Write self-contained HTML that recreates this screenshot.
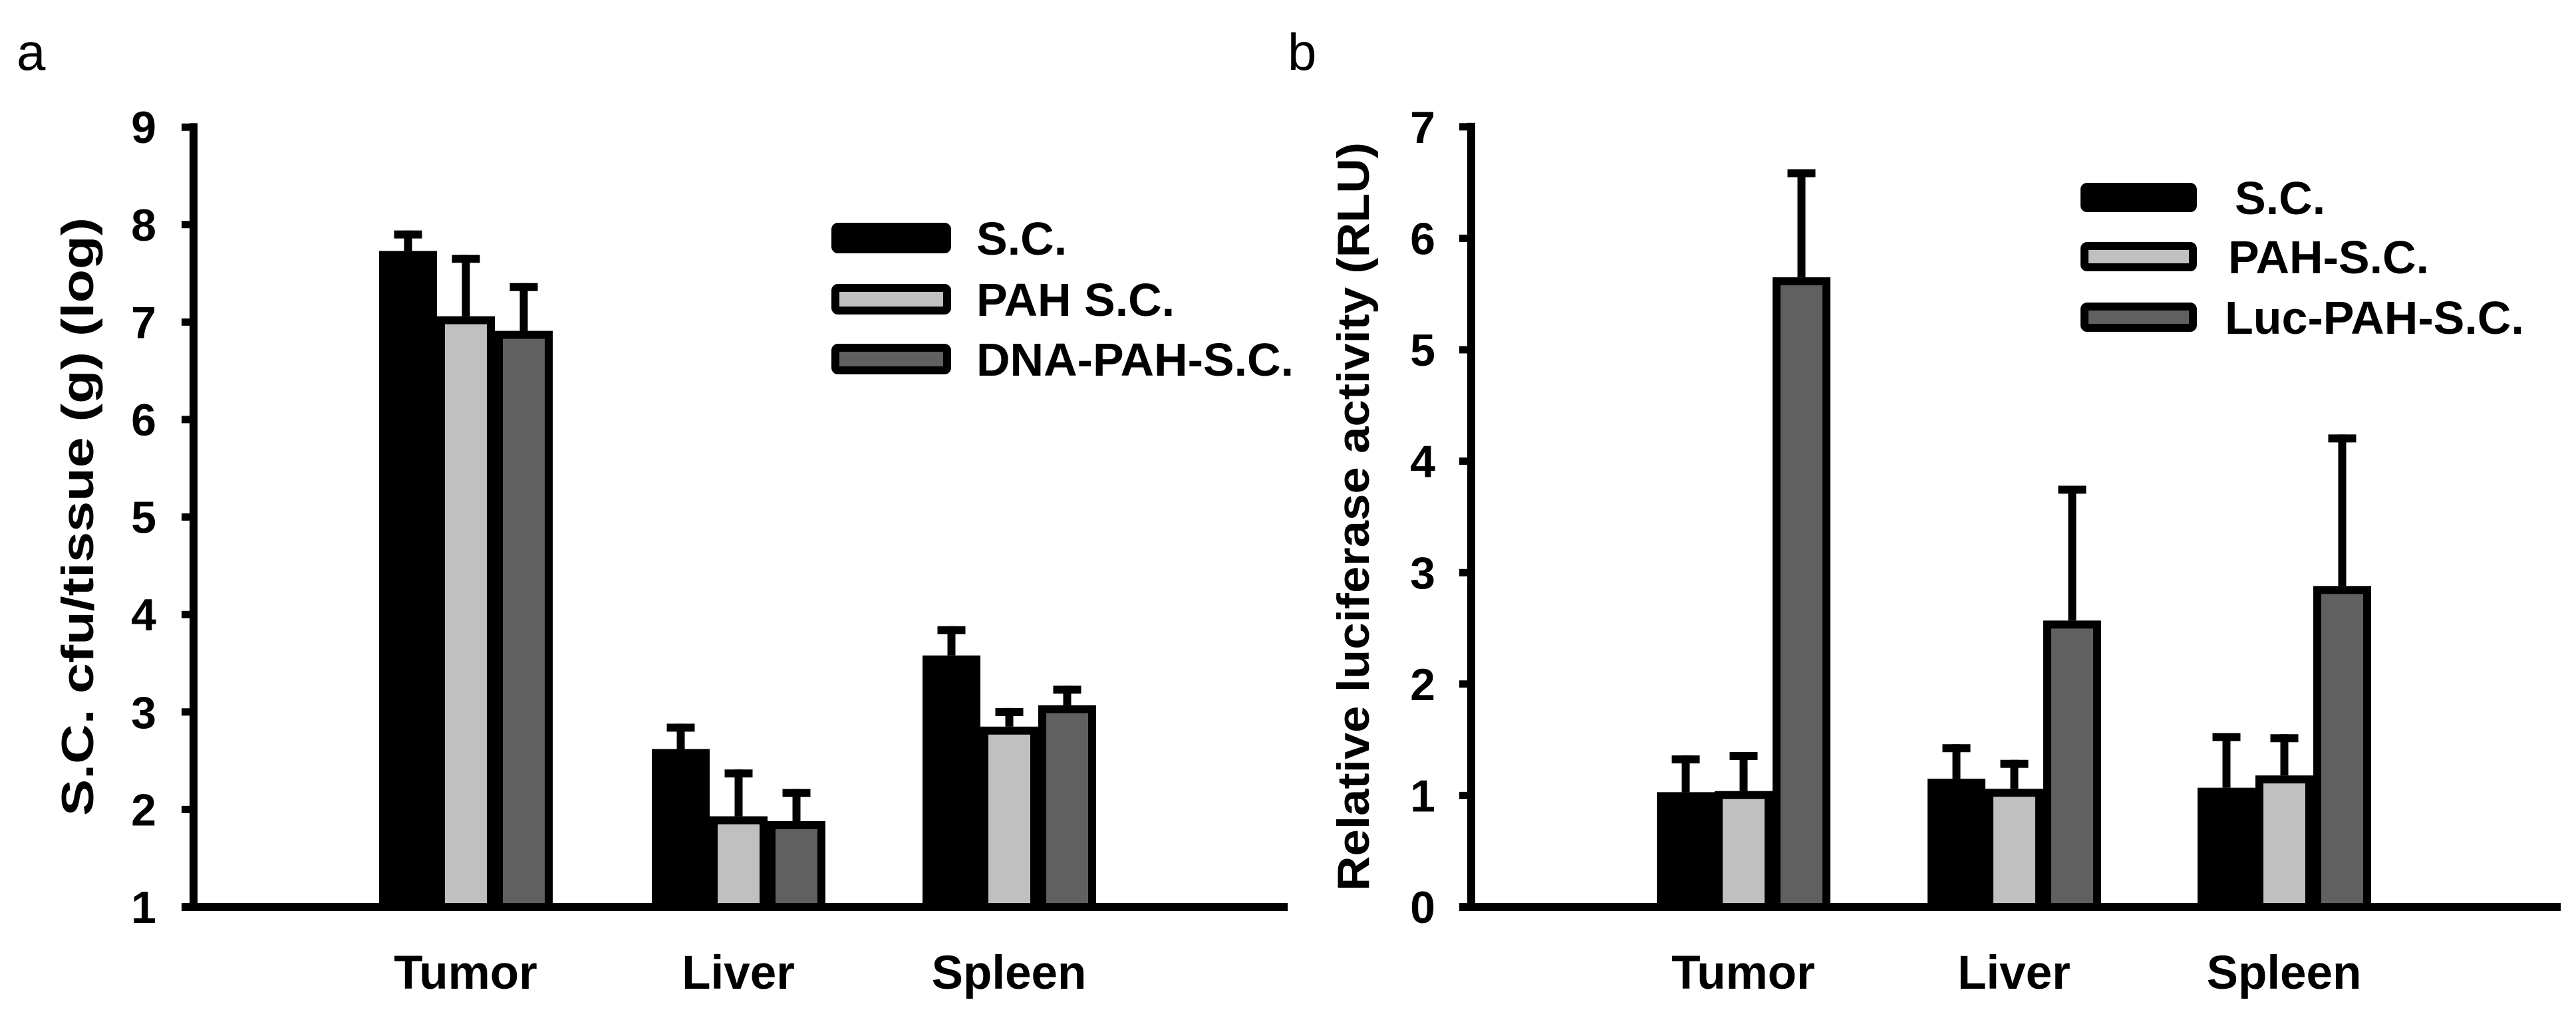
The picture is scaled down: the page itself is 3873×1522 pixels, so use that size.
<!DOCTYPE html>
<html><head><meta charset="utf-8"><style>
html,body{margin:0;padding:0;background:#fff;}
svg{display:block;}
text{font-family:"Liberation Sans",Arial,sans-serif;fill:#000;}
</style></head><body>
<svg id="fig" width="3873" height="1522" viewBox="0 0 3873 1522" xmlns="http://www.w3.org/2000/svg">
<text x="25" y="105" font-size="78">a</text>
<text x="1936" y="105" font-size="78">b</text>
<g id="pa"></g>
<g id="pb"></g>
</svg>
<script>
const categories = ["Tumor","Liver","Spleen"];
const seriesColors = ["#000000","#c0c0c0","#606060"];
// Panel a
const aSeriesNames = ["S.C.","PAH S.C.","DNA-PAH-S.C."];
const aSC = [7.73, 2.62, 3.58];
const aPAH = [7.06, 1.93, 2.85];
const aDNA = [6.91, 1.88, 3.07];
const aSCerr = [7.94, 2.88, 3.88];
const aPAHerr = [7.69, 2.41, 3.04];
const aDNAerr = [7.40, 2.21, 3.27];
const aTicks = [1,2,3,4,5,6,7,8,9];
// Panel b
const bSeriesNames = ["S.C.","PAH-S.C.","Luc-PAH-S.C."];
const bSC = [1.03, 1.15, 1.07];
const bPAH = [1.04, 1.06, 1.18];
const bLuc = [5.65, 2.57, 2.88];
const bSCerr = [1.36, 1.46, 1.56];
const bPAHerr = [1.39, 1.32, 1.55];
const bLucerr = [6.62, 3.78, 4.24];
const bTicks = [0,1,2,3,4,5,6,7];

const NS="http://www.w3.org/2000/svg";
function mk(parent,tag,attrs){const e=document.createElementNS(NS,tag);for(const k in attrs)e.setAttribute(k,attrs[k]);parent.appendChild(e);return e;}

function drawPanel(g,cfg){
  const y=v=>cfg.y0-(v-cfg.vmin)*cfg.unit;
  const bw=87;
  cfg.series.forEach((vals,si)=>{
    vals.forEach((v,ci)=>{
      const x0=cfg.groups[ci]+si*bw;
      const e=cfg.errs[si][ci];
      const cx=x0+bw/2;
      const st=mk(g,'line',{x1:cx,x2:cx,y1:y(v),y2:y(e),stroke:'#000','stroke-width':12});
      
      
      const cp=mk(g,'line',{x1:cx-21,x2:cx+21,y1:y(e)+6,y2:y(e)+6,stroke:'#000','stroke-width':12});
      
      
      const r=mk(g,'rect',{x:x0+6,y:y(v)+6,width:bw-12,height:Math.max(0,cfg.y0-y(v)-6),fill:cfg.colors[si],stroke:'#000','stroke-width':12});
      
      
    });
  });
  const ya=mk(g,'line',{x1:cfg.ax,x2:cfg.ax,y1:y(cfg.ticks[cfg.ticks.length-1])-6,y2:cfg.y0+6,stroke:'#000','stroke-width':12});
  
  
  const xa=mk(g,'line',{x1:cfg.ax-18,x2:cfg.xend,y1:cfg.y0,y2:cfg.y0,stroke:'#000','stroke-width':12});
  
  
  cfg.ticks.forEach(t=>{
    const tk=mk(g,'line',{x1:cfg.ax-18,x2:cfg.ax,y1:y(t),y2:y(t),stroke:'#000','stroke-width':11});
    
    
    const tl=mk(g,'text',{x:cfg.tlx,y:y(t)+24,'font-size':68,'font-weight':'bold','text-anchor':'middle'});
    tl.textContent=t;
    
    
  });
  categories.forEach((c,ci)=>{
    const t=mk(g,'text',{x:cfg.groups[ci]+130,y:1487,'font-size':71,'font-weight':'bold','text-anchor':'middle'});
    t.textContent=c;
    
    
  });
  const yt=mk(g,'text',{x:0,y:0,'font-size':cfg.tfs,'font-weight':cfg.tfw,'text-anchor':'middle',textLength:cfg.tlen,lengthAdjust:'spacingAndGlyphs',transform:'translate('+cfg.tx+','+777+') rotate(-90)'});
  yt.textContent=cfg.title;
  
  
  cfg.names.forEach((n,i)=>{
    const cy=cfg.legY[i];
    const sw=mk(g,'rect',{x:cfg.legX+6,y:cy-cfg.legH/2+6,width:cfg.legW-12,height:cfg.legH-12,fill:cfg.colors[i],stroke:'#000','stroke-width':12,rx:4});
    
    
    const lt=mk(g,'text',{x:cfg.legTX[i],y:cy+25,'font-size':70,'font-weight':'bold'});
    lt.textContent=n;
    
    
  });
}
drawPanel(document.getElementById('pa'),{
  series:[aSC,aPAH,aDNA],errs:[aSCerr,aPAHerr,aDNAerr],colors:seriesColors,
  groups:[570,980,1387],y0:1364,vmin:1,unit:146.6,ax:291,xend:1936,ticks:aTicks,tlx:216,
  title:"S.C. cfu/tissue (g) (log)",tfs:68,tfw:'bold',tlen:900,tx:140,
  names:aSeriesNames,legX:1250,legW:180,legH:46,legY:[358,450,540],legTX:[1468,1468,1468]
});
drawPanel(document.getElementById('pb'),{
  series:[bSC,bPAH,bLuc],errs:[bSCerr,bPAHerr,bLucerr],colors:seriesColors,
  groups:[2491,2898,3304],y0:1364,vmin:0,unit:167.6,ax:2212,xend:3850,ticks:bTicks,tlx:2139,
  title:"Relative luciferase activity (RLU)",tfs:68,tfw:'bold',tlen:1126,tx:2058,
  names:bSeriesNames,legX:3128,legW:175,legH:44,legY:[297,386,477],legTX:[3360,3350,3345]
});
</script>
</body></html>
